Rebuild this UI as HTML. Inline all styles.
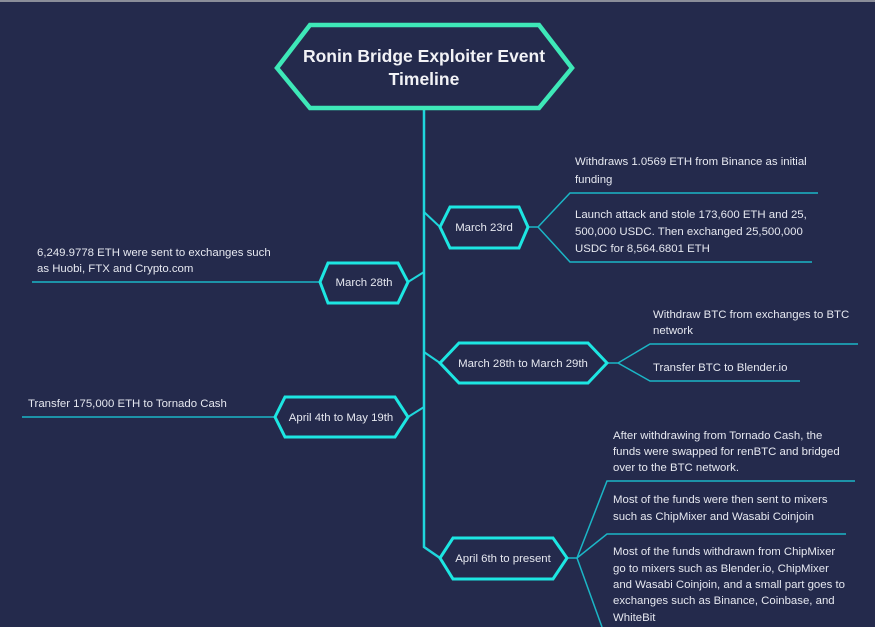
<!DOCTYPE html>
<html><head><meta charset="utf-8"><style>
html,body{margin:0;padding:0;background:#242a4c;}
svg{display:block}
text{font-family:"Liberation Sans",sans-serif;fill:#e6e8f0;font-size:11.4px}
</style></head><body>
<svg width="875" height="627" viewBox="0 0 875 627" xmlns="http://www.w3.org/2000/svg">
<rect width="875" height="627" fill="#242a4c"/>
<rect width="875" height="2" fill="#8a8d99"/>
<polyline points="424,108 424,547 440,558" fill="none" stroke="#1fd6dc" stroke-width="2.5"/>
<g stroke="#1fd6dc" stroke-width="2" fill="none">
<line x1="424" y1="212" x2="440" y2="227"/>
<line x1="424" y1="272" x2="408" y2="282"/>
<line x1="424" y1="352" x2="440" y2="363"/>
<line x1="424" y1="407" x2="408" y2="417"/>
</g>
<g stroke="#1bb6c6" stroke-width="1.5" fill="none">
<polyline points="528,227 538,227 570,193 818,193"/>
<polyline points="538,227 570,262 812,262"/>
<line x1="320" y1="282" x2="32" y2="282"/>
<polyline points="607,363 618,363 650,344 858,344"/>
<polyline points="618,363 650,381 800,381"/>
<line x1="275" y1="417" x2="22" y2="417"/>
<polyline points="567,558 577,558 607,481 855,481"/>
<polyline points="577,558 607,534 846,534"/>
<line x1="577" y1="558" x2="602" y2="627"/>
</g>
<polygon points="277,68 310,25 539,25 572,68 539,108 310,108" fill="#242a4c" stroke="#3ee8b8" stroke-width="4.5"/>
<text x="424" y="62" text-anchor="middle" style="font-size:17.5px;font-weight:bold;fill:#f2f2f6">Ronin Bridge Exploiter Event</text>
<text x="424" y="85" text-anchor="middle" style="font-size:17.5px;font-weight:bold;fill:#f2f2f6">Timeline</text>
<g fill="#242a4c" stroke="#1de6e2" stroke-width="3">
<polygon points="440,227 450,207 519,207 528,227 519,248 450,248"/>
<polygon points="320,282 328,263 398,263 408,282 398,303 328,303"/>
<polygon points="440,363 459,343 588,343 607,363 588,383 459,383"/>
<polygon points="275,417 285,397 395,397 408,417 395,437 285,437"/>
<polygon points="440,558 453,538 553,538 567,558 553,579 453,579"/>
</g>
<g text-anchor="middle">
<text x="484" y="231">March 23rd</text>
<text x="364" y="286">March 28th</text>
<text x="523" y="367">March 28th to March 29th</text>
<text x="341" y="421">April 4th to May 19th</text>
<text x="503" y="562">April 6th to present</text>
</g>
<text x="575" y="165">Withdraws 1.0569 ETH from Binance as initial</text>
<text x="575" y="183">funding</text>
<text x="575" y="218">Launch attack and stole 173,600 ETH and 25,</text>
<text x="575" y="235">500,000 USDC. Then exchanged 25,500,000</text>
<text x="575" y="252">USDC for 8,564.6801 ETH</text>
<text x="37" y="256">6,249.9778 ETH were sent to exchanges such</text>
<text x="37" y="272">as Huobi, FTX and Crypto.com</text>
<text x="653" y="318">Withdraw BTC from exchanges to BTC</text>
<text x="653" y="334">network</text>
<text x="653" y="371">Transfer BTC to Blender.io</text>
<text x="28" y="407">Transfer 175,000 ETH to Tornado Cash</text>
<text x="613" y="439">After withdrawing from Tornado Cash, the</text>
<text x="613" y="455">funds were swapped for renBTC and bridged</text>
<text x="613" y="471">over to the BTC network.</text>
<text x="613" y="503">Most of the funds were then sent to mixers</text>
<text x="613" y="520">such as ChipMixer and Wasabi Coinjoin</text>
<text x="613" y="555">Most of the funds withdrawn from ChipMixer</text>
<text x="613" y="572">go to mixers such as Blender.io, ChipMixer</text>
<text x="613" y="588">and Wasabi Coinjoin, and a small part goes to</text>
<text x="613" y="604">exchanges such as Binance, Coinbase, and</text>
<text x="613" y="621">WhiteBit</text>
</svg>
</body></html>
